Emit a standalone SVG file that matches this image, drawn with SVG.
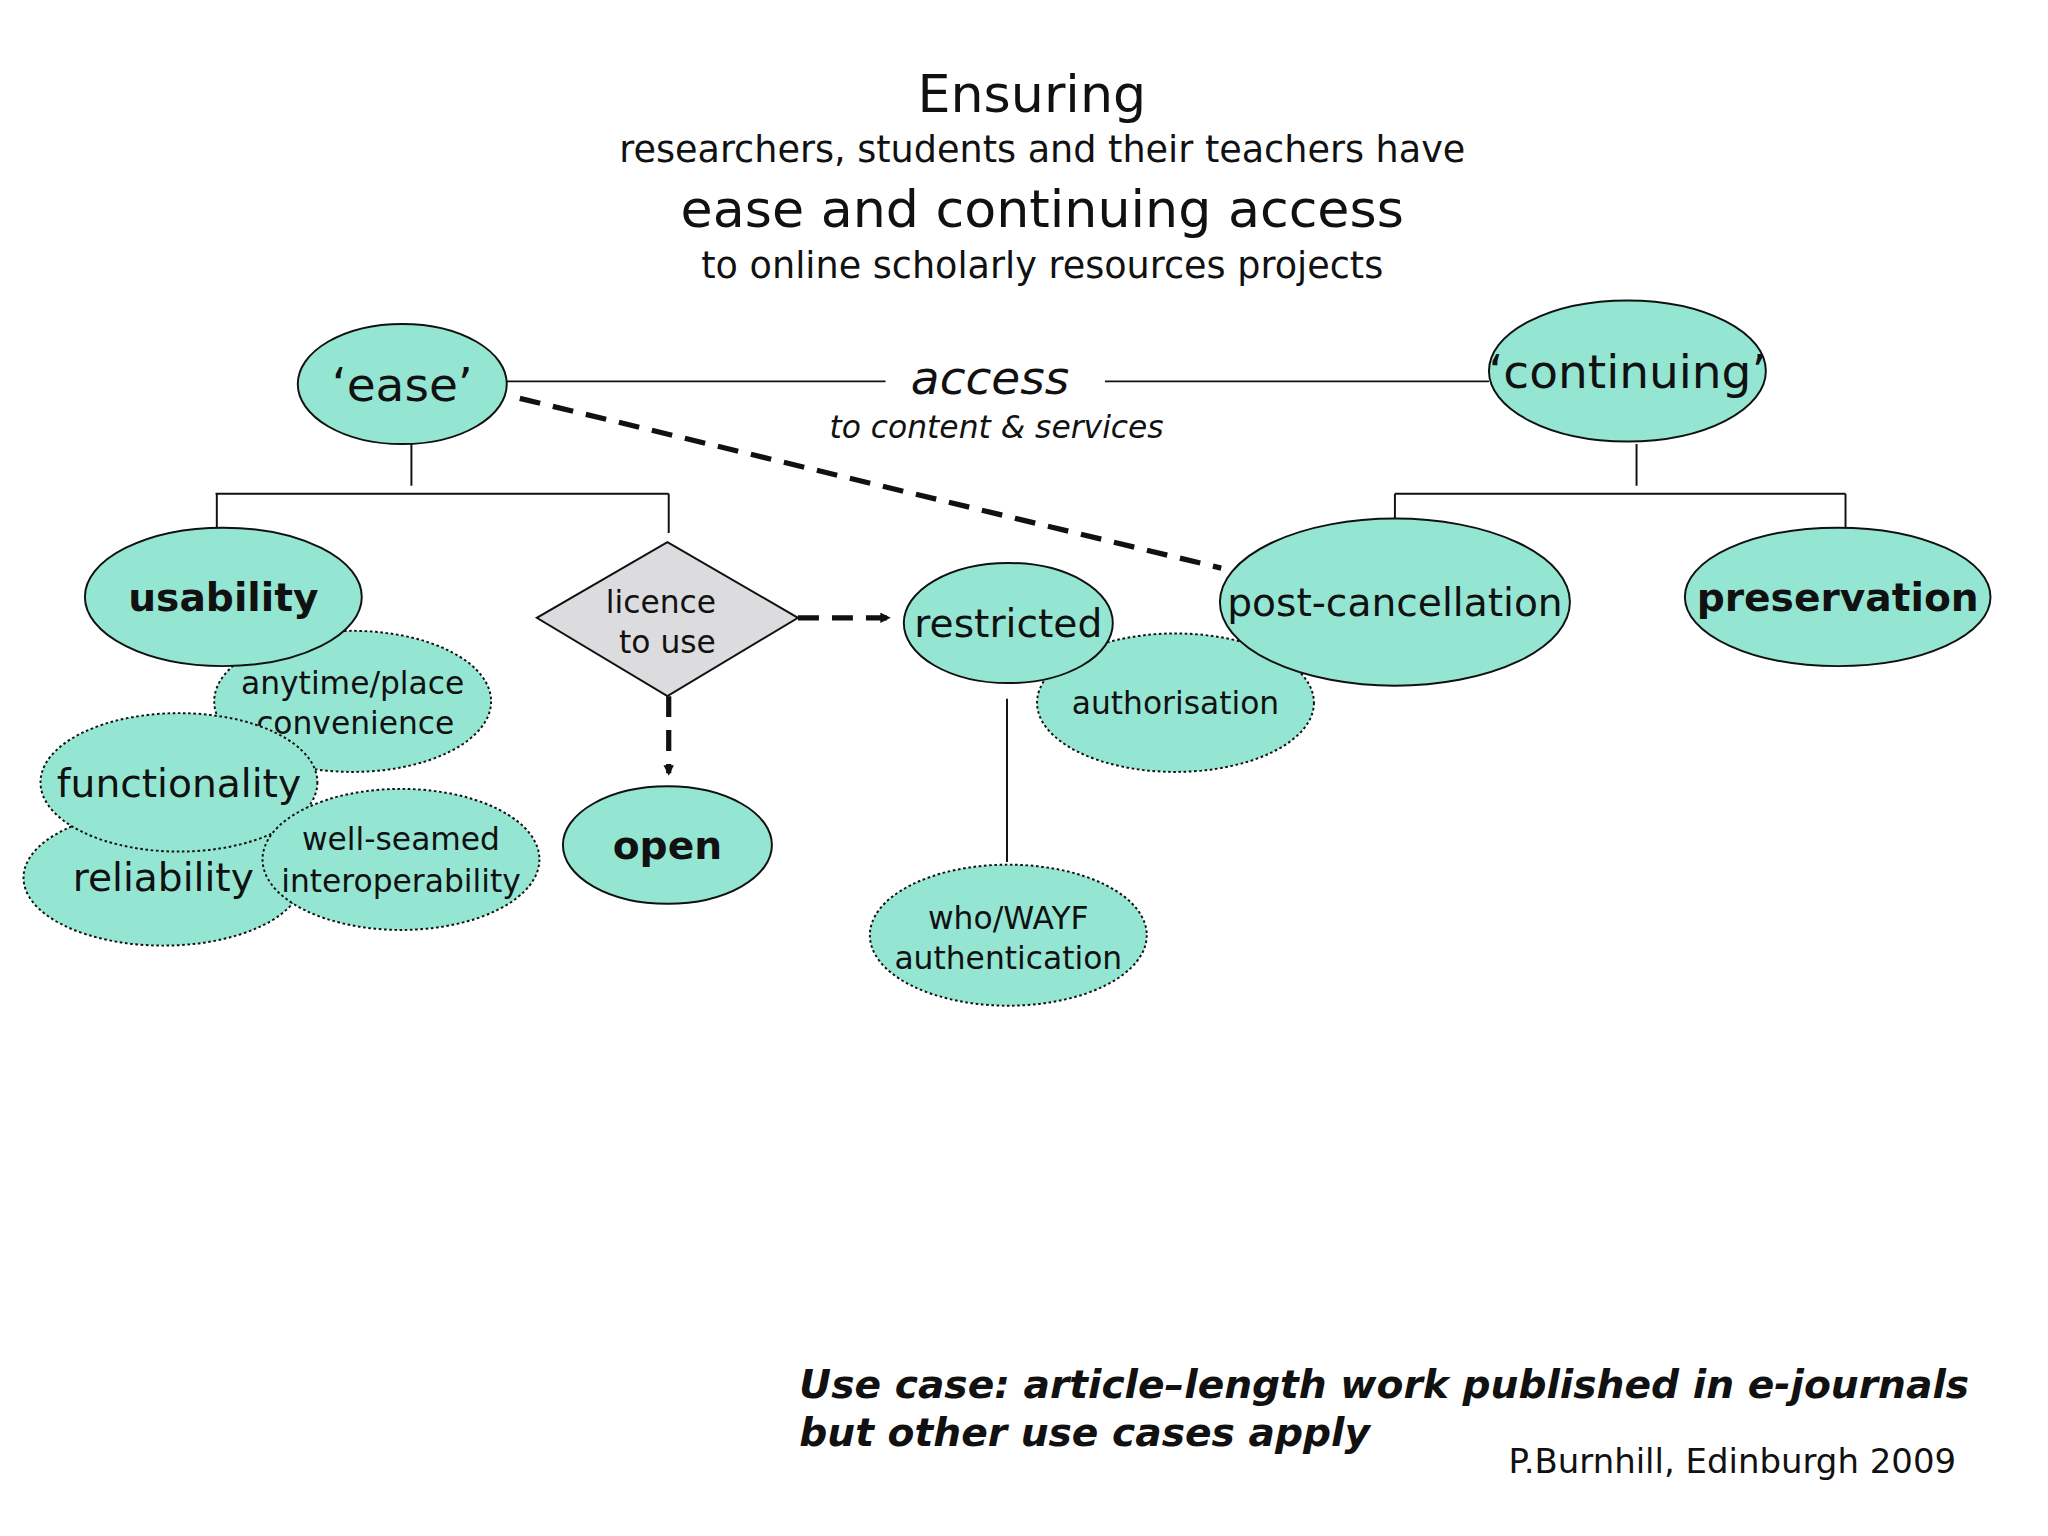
<svg xmlns="http://www.w3.org/2000/svg" width="2048" height="1536" viewBox="0 0 2048 1536">
<style>
text{font-family:"DejaVu Sans","Liberation Sans",sans-serif;fill:#111}
.n{fill:#94e6d3;stroke:#111;stroke-width:1.5}
.d{fill:#94e6d3;stroke:#111;stroke-width:1.5;stroke-dasharray:2 2}
.l{stroke:#111;stroke-width:1.5;fill:none}
.da{stroke:#111;stroke-width:4;stroke-dasharray:16 10;fill:none}
</style>
<defs><marker id="ah" markerWidth="8" markerHeight="8" refX="6" refY="4" orient="auto" markerUnits="userSpaceOnUse"><path d="M0,0 L8,4 L0,8z" fill="#111"/></marker></defs>
<rect width="2048" height="1536" fill="#fff"/>
<g transform="scale(1.3061)">
<g id="title" text-anchor="middle">
<text x="790" y="86" font-size="40">Ensuring</text>
<text x="798" y="124" font-size="28">researchers, students and their teachers have</text>
<text x="798" y="174" font-size="40">ease and continuing access</text>
<text x="798" y="213" font-size="28">to online scholarly resources projects</text>
</g>
<g id="connectors">
<line class="l" x1="388" y1="292" x2="678" y2="292"/>
<line class="l" x1="846" y1="292" x2="1140" y2="292"/>
<line class="da" x1="398" y1="305" x2="935" y2="435"/>
<path class="l" d="M315,340V372M165,378H512M166,378V405M512,378V408"/>
<path class="l" d="M1253,340V372M1068,378H1413M1068,378V408M1413,378V408"/>
<line class="da" x1="611" y1="473" x2="680" y2="473" marker-end="url(#ah)"/>
<line class="da" x1="512" y1="533" x2="512" y2="592" marker-end="url(#ah)"/>
<line class="l" x1="771" y1="535" x2="771" y2="660"/>
</g>
<g id="access" text-anchor="middle" font-style="italic">
<text x="758" y="302" font-size="36" style="font-style:italic">access</text>
<text x="763" y="335" font-size="24" style="font-style:italic">to content &amp; services</text>
</g>
<g id="ease"><ellipse class="n" cx="308" cy="294" rx="80" ry="46"/><text x="308" y="307" font-size="36" text-anchor="middle">‘ease’</text></g>
<g id="continuing"><ellipse class="n" cx="1246" cy="284" rx="106" ry="54"/><text x="1246" y="297" font-size="36" text-anchor="middle">‘continuing’</text></g>
<g id="reliability"><ellipse class="d" cx="125" cy="672" rx="107" ry="52"/><text x="125" y="682" font-size="30" text-anchor="middle">reliability</text></g>
<g id="anytime"><ellipse class="d" cx="270" cy="537" rx="106" ry="54"/><text x="270" y="531" font-size="24" text-anchor="middle">anytime/place</text><text x="272" y="562" font-size="24" text-anchor="middle">convenience</text></g>
<g id="usability"><ellipse class="n" cx="171" cy="457" rx="106" ry="53"/><text x="171" y="468" font-size="30" font-weight="bold" text-anchor="middle">usability</text></g>
<g id="functionality"><ellipse class="d" cx="137" cy="599" rx="106" ry="53"/><text x="137" y="610" font-size="30" text-anchor="middle">functionality</text></g>
<g id="wellseamed"><ellipse class="d" cx="307" cy="658" rx="106" ry="54"/><text x="307" y="651" font-size="24" text-anchor="middle">well-seamed</text><text x="307" y="683" font-size="24" text-anchor="middle">interoperability</text></g>
<g id="licence"><polygon points="511,415 611,473 511,533 411,473" fill="#dcdcdf" stroke="#111" stroke-width="1.5"/><text x="506" y="469" font-size="24" text-anchor="middle">licence</text><text x="511" y="500" font-size="24" text-anchor="middle">to use</text></g>
<g id="open"><ellipse class="n" cx="511" cy="647" rx="80" ry="45"/><text x="511" y="658" font-size="30" font-weight="bold" text-anchor="middle">open</text></g>
<g id="authorisation"><ellipse class="d" cx="900" cy="538" rx="106" ry="53"/><text x="900" y="547" font-size="24" text-anchor="middle">authorisation</text></g>
<g id="restricted"><ellipse class="n" cx="772" cy="477" rx="80" ry="46"/><text x="772" y="488" font-size="30" text-anchor="middle">restricted</text></g>
<g id="whowayf"><ellipse class="d" cx="772" cy="716" rx="106" ry="54"/><text x="772" y="711" font-size="24" text-anchor="middle">who/WAYF</text><text x="772" y="742" font-size="24" text-anchor="middle">authentication</text></g>
<g id="postcancellation"><ellipse class="n" cx="1068" cy="461" rx="134" ry="64"/><text x="1068" y="472" font-size="30" text-anchor="middle">post-cancellation</text></g>
<g id="preservation"><ellipse class="n" cx="1407" cy="457" rx="117" ry="53"/><text x="1407" y="468" font-size="30" font-weight="bold" text-anchor="middle">preservation</text></g>
<g id="footer">
<text x="612" y="1070" font-size="30" font-weight="bold" style="font-style:italic">Use case: article–length work published in e-journals</text>
<text x="612" y="1107" font-size="30" font-weight="bold" style="font-style:italic">but other use cases apply</text>
<text x="1155" y="1128" font-size="26">P.Burnhill, Edinburgh 2009</text>
</g>
</g>
</svg>
